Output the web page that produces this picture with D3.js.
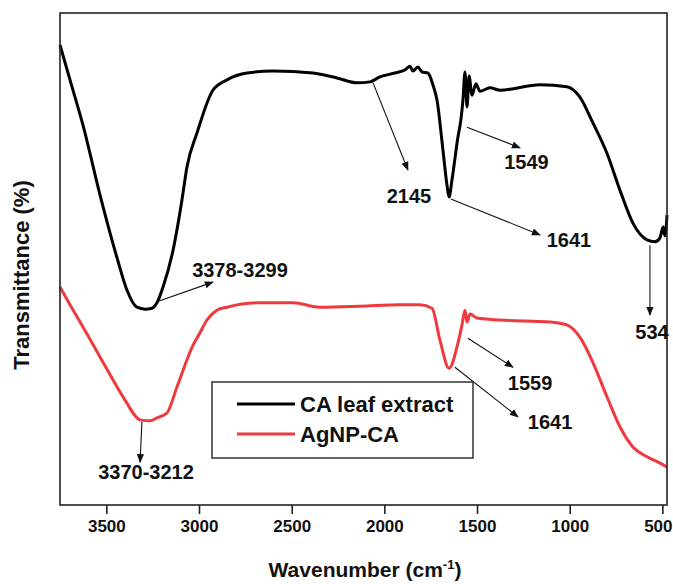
<!DOCTYPE html>
<html>
<head>
<meta charset="utf-8">
<script src="https://cdn.jsdelivr.net/npm/d3@7"></script>
<style>
  html, body { margin: 0; padding: 0; background: #fff; }
  svg text { font-family: "Liberation Sans", Arial, sans-serif; font-weight: bold; fill: #111; }
</style>
</head>
<body>
<div id="chart"></div>
<script>
// CA leaf extract (black) - wavenumber (cm-1) and transmittance (a.u.)
const caWave = [3750, 3696, 3626, 3534, 3442, 3389, 3335, 3291, 3254, 3227, 3194, 3140, 3092,
  3065, 3011, 2925, 2849, 2741, 2601, 2385, 2256, 2148, 2078, 2024, 1943, 1889, 1862, 1846, 1819, 1797, 1765,
  1738, 1716, 1684, 1662, 1651, 1635, 1603, 1587, 1576, 1565, 1554, 1543, 1527, 1506, 1484, 1430, 1376, 1160,
  1015, 945, 874, 799, 729, 659, 583, 540, 513, 496, 486, 475];
const caT = [93.5, 86.4, 77.2, 63.0, 50.2, 43.7, 40.2, 39.8, 40.0, 41.1, 44.3, 51.8, 62.0,
  68.7, 75.6, 84.3, 86.4, 87.8, 88.2, 87.8, 86.8, 85.8, 86.0, 87.0, 87.8, 88.4, 89.2, 88.2, 89.0, 88.0, 87.8,
  85.4, 82.3, 72.2, 65.0, 62.6, 66.1, 74.8, 78.3, 82.3, 88.0, 80.9, 87.2, 83.3, 85.6, 84.1, 84.8, 84.3, 85.4,
  85.0, 82.9, 77.6, 71.5, 64.0, 57.3, 53.9, 53.5, 54.3, 56.5, 54.7, 58.9];

// AgNP-CA (red)
const agWave = [3750, 3696, 3626, 3534, 3442, 3389, 3356, 3318, 3264, 3227, 3173, 3119, 3032, 2995, 2957,
  2903, 2849, 2671, 2493, 2347, 2131, 1916, 1808, 1743, 1700, 1651, 1603, 1581, 1565, 1554, 1538, 1500, 1376,
  1106, 1015, 945, 874, 799, 729, 659, 583, 513, 475];
const agT = [44.3, 40.7, 36.2, 30.1, 24.0, 20.7, 18.7, 17.3, 17.1, 17.7, 18.7, 24.0, 32.5, 35.0, 37.6,
  39.6, 40.2, 41.1, 41.1, 40.2, 40.4, 40.7, 40.7, 40.0, 33.5, 27.8, 32.9, 36.6, 39.6, 37.2, 38.8, 38.0, 37.6,
  37.2, 36.6, 34.1, 28.9, 22.0, 15.9, 11.8, 9.8, 8.5, 7.7];

const xTicks = [3500, 3000, 2500, 2000, 1500, 1000, 500];
const seriesNames = ['CA leaf extract', 'AgNP-CA'];
const seriesColors = ['#000000', '#ee3a3e'];

// peak annotations: arrow from (w0,t0) to (w1,t1), label centred at (lw,lt)
const annText = ['3378-3299', '2145', '1641', '1549', '534', '3370-3212', '1559', '1641'];
const annFrom = [[3227, 41.3], [2061, 85.8], [1641, 62.2], [1554, 76.8], [567, 52.8], [3308, 16.9], [1549, 33.9], [1619, 28.0]];
const annTo = [[2925, 45.3], [1873, 68.1], [1160, 54.9], [1268, 72.6], [567, 38.6], [3318, 8.7], [1306, 28.0], [1279, 17.9]];
const annLabel = [[2779, 47.8], [1867, 62.8], [1004, 53.9], [1233, 69.7], [556, 35.2], [3286, 6.7], [1214, 24.8], [1106, 16.9]];

const width = 673, height = 584;
const margin = { top: 13, right: 6, bottom: 79, left: 60 };

const svg = d3.select('#chart').append('svg')
  .attr('width', width).attr('height', height);

const x = d3.scaleLinear().domain([3750, 475]).range([margin.left, width - margin.right]);
const y = d3.scaleLinear().domain([0, 100]).range([height - margin.bottom, margin.top]);

svg.append('defs').append('marker')
  .attr('id', 'arrow')
  .attr('viewBox', '0 0 10 10')
  .attr('refX', 9).attr('refY', 5)
  .attr('markerWidth', 9).attr('markerHeight', 9)
  .attr('markerUnits', 'userSpaceOnUse')
  .attr('orient', 'auto')
  .append('path').attr('d', 'M0,1 L10,5 L0,9 Z').attr('fill', '#111');

// curves
const line = d3.line()
  .x(d => x(d[0]))
  .y(d => y(d[1]))
  .curve(d3.curveMonotoneX);

const series = [
  d3.zip(caWave, caT).sort((a, b) => b[0] - a[0]),
  d3.zip(agWave, agT).sort((a, b) => b[0] - a[0]),
];

svg.append('g').selectAll('path')
  .data(series)
  .join('path')
  .attr('d', line)
  .attr('fill', 'none')
  .attr('stroke', (d, i) => seriesColors[i])
  .attr('stroke-width', 3)
  .attr('stroke-linejoin', 'round');

// frame
const x0 = margin.left, x1 = width - margin.right, y0 = margin.top, y1 = height - margin.bottom;
svg.append('rect')
  .attr('x', x0).attr('y', y0)
  .attr('width', x1 - x0).attr('height', y1 - y0)
  .attr('fill', 'none').attr('stroke', '#222').attr('stroke-width', 1.6);

// bottom axis
const xAxis = svg.append('g')
  .attr('transform', `translate(0,${y1})`)
  .call(d3.axisBottom(x).tickValues(xTicks).tickSize(9).tickPadding(6).tickFormat(d3.format('d')));
xAxis.select('.domain').remove();
xAxis.selectAll('.tick line').attr('stroke', '#222').attr('stroke-width', 1.6);
xAxis.selectAll('.tick text')
  .attr('font-size', 17).attr('font-family', '"Liberation Sans", Arial, sans-serif')
  .attr('font-weight', 'bold').attr('fill', '#111');
// keep the last label inside the page
xAxis.selectAll('.tick text').filter(d => d === 500)
  .attr('text-anchor', 'end').attr('x', width - 1 - x(500));

// axis titles
const xt = svg.append('text')
  .attr('x', 365).attr('y', 577)
  .attr('text-anchor', 'middle').attr('font-size', 21);
xt.append('tspan').text('Wavenumber (cm');
xt.append('tspan').text('-1').attr('font-size', 13).attr('dy', -8);
xt.append('tspan').text(')').attr('dy', 8);

svg.append('text')
  .attr('transform', `translate(29,${(y0 + y1) / 2 + 16}) rotate(-90)`)
  .attr('text-anchor', 'middle').attr('font-size', 22)
  .text('Transmittance (%)');

// annotations
const ann = svg.append('g');
ann.selectAll('line')
  .data(annText)
  .join('line')
  .attr('x1', (d, i) => x(annFrom[i][0])).attr('y1', (d, i) => y(annFrom[i][1]))
  .attr('x2', (d, i) => x(annTo[i][0])).attr('y2', (d, i) => y(annTo[i][1]))
  .attr('stroke', '#111').attr('stroke-width', 1.1)
  .attr('marker-end', 'url(#arrow)');
ann.selectAll('text')
  .data(annText)
  .join('text')
  .attr('x', (d, i) => x(annLabel[i][0]))
  .attr('y', (d, i) => y(annLabel[i][1]))
  .attr('dy', '0.36em')
  .attr('text-anchor', 'middle')
  .attr('font-size', 20)
  .text(d => d);

// legend
const legend = svg.append('g').attr('transform', 'translate(212,382)');
legend.append('rect')
  .attr('width', 261).attr('height', 76)
  .attr('fill', '#fff').attr('stroke', '#333').attr('stroke-width', 1.5);
const items = legend.selectAll('g.item')
  .data(seriesNames)
  .join('g')
  .attr('class', 'item')
  .attr('transform', (d, i) => `translate(0,${22 + i * 30})`);
items.append('line')
  .attr('x1', 25).attr('x2', 83)
  .attr('stroke', (d, i) => seriesColors[i]).attr('stroke-width', 3.2);
items.append('text')
  .attr('x', 88).attr('dy', '0.36em')
  .attr('font-size', 22)
  .text(d => d);
</script>
</body>
</html>
